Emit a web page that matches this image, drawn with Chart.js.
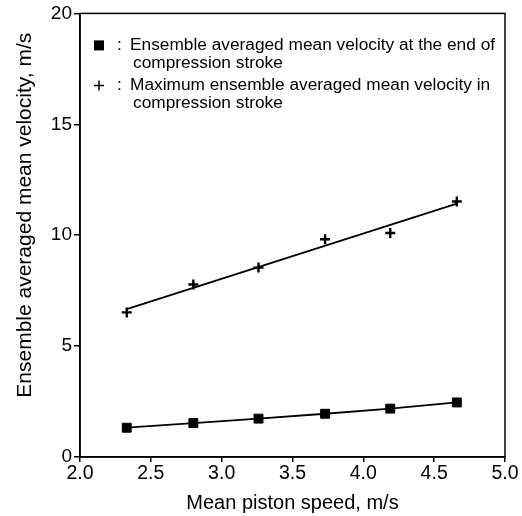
<!DOCTYPE html>
<html><head><meta charset="utf-8">
<script src="https://cdn.jsdelivr.net/npm/chart.js@4"></script>
<style>html,body{margin:0;padding:0;background:#fff}</style>
</head><body>
<canvas id="c" width="522" height="516" style="display:block;width:522px;height:516px"></canvas>
<script>
// ---- data ----
const pistonSpeed = [2.33, 2.80, 3.26, 3.73, 4.19, 4.66];
const endOfCompressionVelocity = [1.32, 1.53, 1.73, 1.95, 2.18, 2.46];
const maxCompressionVelocity = [6.52, 7.78, 8.54, 9.82, 10.10, 11.52];
const xTickValues = [2.0, 2.5, 3.0, 3.5, 4.0, 4.5, 5.0];
const yTickValues = [0, 5, 10, 15, 20];
const xTitle = 'Mean piston speed, m/s';
const yTitle = 'Ensemble averaged mean velocity, m/s';
const legendSquareLines = ['Ensemble averaged mean velocity at the end of', 'compression stroke'];
const legendCrossLines = ['Maximum ensemble averaged mean velocity in', 'compression stroke'];

// least-squares line through the maximum-velocity points
function fit(xs, ys) {
  const n = xs.length, mx = xs.reduce((a,b)=>a+b,0)/n, my = ys.reduce((a,b)=>a+b,0)/n;
  let sxy = 0, sxx = 0;
  for (let i = 0; i < n; i++) { sxy += (xs[i]-mx)*(ys[i]-my); sxx += (xs[i]-mx)**2; }
  const b = sxy/sxx, a = my - b*mx;
  return [xs[0], xs[n-1]].map(x => ({x, y: a + b*x}));
}

const FONT = '"Liberation Sans", Arial, Helvetica, sans-serif';

const framePlugin = {
  id: 'frame',
  afterDatasetsDraw(chart) {
    const {ctx, chartArea: a} = chart;
    ctx.save();
    ctx.strokeStyle = '#000';
    ctx.lineWidth = 1.5;
    ctx.strokeRect(a.left, a.top, a.right - a.left, a.bottom - a.top);
    ctx.restore();
  },
  afterDraw(chart) {
    const {ctx, chartArea: a} = chart;
    ctx.save();
    ctx.fillStyle = '#000';
    ctx.strokeStyle = '#000';
    // y-axis title (placed slightly above the plot centre, as in the reference)
    ctx.save();
    ctx.translate(25, a.top + (a.bottom - a.top) * 0.455);
    ctx.rotate(-Math.PI / 2);
    ctx.font = '21px ' + FONT;
    ctx.textAlign = 'center';
    ctx.textBaseline = 'middle';
    ctx.fillText(yTitle, 0, 0);
    ctx.restore();
    // legend
    ctx.font = '17.3px ' + FONT;
    ctx.textBaseline = 'middle';
    const mx = a.left + 19, tx = a.left + 50, cx = a.left + 37;
    let y0 = a.top + 32;
    ctx.fillRect(mx - 5, y0 - 5, 10, 10);
    ctx.fillText(':', cx, y0);
    ctx.fillText(legendSquareLines[0], tx, y0);
    ctx.fillText(legendSquareLines[1], tx + 3, y0 + 18);
    let y1 = a.top + 72;
    ctx.lineWidth = 1.5;
    ctx.beginPath();
    ctx.moveTo(mx - 5, y1); ctx.lineTo(mx + 5, y1);
    ctx.moveTo(mx, y1 - 5); ctx.lineTo(mx, y1 + 5);
    ctx.stroke();
    ctx.fillText(':', cx, y1);
    ctx.fillText(legendCrossLines[0], tx, y1);
    ctx.fillText(legendCrossLines[1], tx + 3, y1 + 18);
    ctx.restore();
  }
};

new Chart(document.getElementById('c'), {
  type: 'scatter',
  data: {
    datasets: [
      {
        data: pistonSpeed.map((x, i) => ({x, y: endOfCompressionVelocity[i]})),
        showLine: true,
        borderColor: '#000', backgroundColor: '#000',
        borderWidth: 1.8,
        pointStyle: 'rect', pointRadius: 6.3, pointBorderWidth: 1,
        pointBackgroundColor: '#000', pointBorderColor: '#000'
      },
      {
        data: pistonSpeed.map((x, i) => ({x, y: maxCompressionVelocity[i]})),
        showLine: false,
        borderColor: '#000', backgroundColor: '#000',
        pointStyle: 'cross', pointRadius: 5, pointBorderWidth: 2.4
      },
      {
        data: fit(pistonSpeed, maxCompressionVelocity),
        showLine: true, pointRadius: 0,
        borderColor: '#000', borderWidth: 1.8
      }
    ]
  },
  options: {
    responsive: false,
    animation: false,
    layout: { padding: { top: 13, right: 17, left: 0, bottom: 0 } },
    plugins: { legend: { display: false }, tooltip: { enabled: false } },
    scales: {
      x: {
        type: 'linear', min: 2, max: 5,
        afterBuildTicks(s) { s.ticks = xTickValues.map(v => ({value: v})); },
        afterFit(s) { s.height = 59; },
        grid: { drawOnChartArea: false, drawTicks: true, tickLength: 5, color: '#000', lineWidth: 1.5 },
        border: { display: true, color: '#000', width: 1.5 },
        ticks: { color: '#000', padding: 0, font: { family: FONT, size: 19.5 }, callback: v => v.toFixed(1), maxRotation: 0 },
        title: { display: true, text: xTitle, color: '#000', font: { family: FONT, size: 20 }, padding: { top: 0, bottom: 1 } }
      },
      y: {
        type: 'linear', min: 0, max: 20,
        afterBuildTicks(s) { s.ticks = yTickValues.map(v => ({value: v})); },
        afterFit(s) { s.width = 80; },
        grid: { drawOnChartArea: false, drawTicks: true, tickLength: 6, color: '#000', lineWidth: 1.5 },
        border: { display: true, color: '#000', width: 1.5 },
        ticks: { color: '#000', padding: 2, font: { family: FONT, size: 19 } },
        title: { display: false }
      }
    }
  },
  plugins: [framePlugin]
});
</script>
</body></html>
